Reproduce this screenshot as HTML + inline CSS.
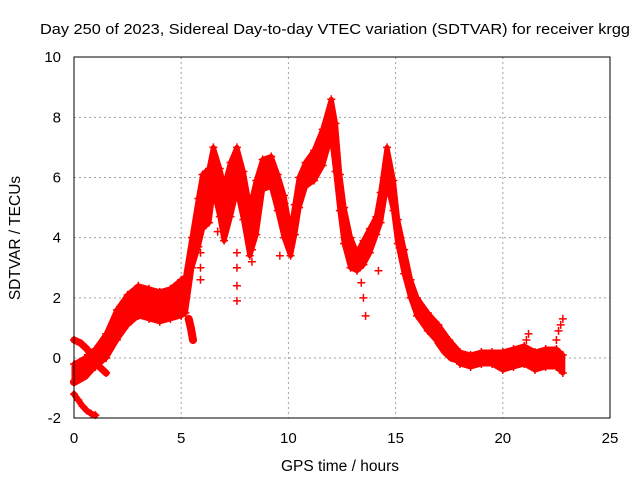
<!DOCTYPE html>
<html><head><meta charset="utf-8"><style>
body{margin:0;background:#fff}
svg{display:block;font-family:"Liberation Sans",sans-serif}
</style></head><body>
<svg id="chart" width="640" height="480" viewBox="0 0 640 480">
<rect width="640" height="480" fill="#fff"/>
<text x="40" y="34" font-size="15" textLength="590" lengthAdjust="spacingAndGlyphs">Day 250 of 2023, Sidereal Day-to-day VTEC variation (SDTVAR) for receiver krgg</text>
<g id="grid"></g>
<g id="ticks"></g>
<g id="marks"></g>
<rect x="74" y="57" width="536" height="361" fill="none" stroke="#000" stroke-width="1"/>
<text x="340" y="471" font-size="15.5" text-anchor="middle">GPS time / hours</text>
<text x="20" y="238" font-size="15.5" text-anchor="middle" transform="rotate(-90 20 238)">SDTVAR / TECUs</text>
</svg>
<script>
const xTicks=[0,5,10,15,20,25];
const yTicks=[-2,0,2,4,6,8,10];
const mainT=[0,0.5,1,1.5,2,2.5,3,3.5,4,4.5,5,5.2,5.5,5.8,6.0,6.3,6.5,6.8,7.0,7.3,7.6,7.9,8.2,8.5,8.8,9.2,9.5,9.8,10.1,10.3,10.5,10.8,11.2,11.6,12.0,12.2,12.4,12.6,12.9,13.2,13.5,13.8,14.1,14.3,14.6,14.9,15.1,15.4,15.7,16.0,16.5,17,17.5,18,18.5,19,19.5,20,20.5,21,21.5,22,22.5,22.8];
const mainV=[-0.5,-0.3,0.0,0.4,1.1,1.6,1.9,1.8,1.7,1.8,2.0,2.1,3.5,4.5,5.2,5.4,6.3,5.5,4.8,5.6,6.3,5.4,4.2,5.0,6.1,6.2,5.5,4.7,3.8,4.6,5.5,6.1,6.4,7.0,8.0,7.0,5.5,4.4,3.5,3.2,3.5,3.9,4.4,5.0,6.4,5.4,4.2,3.2,2.3,1.7,1.2,0.8,0.4,0.0,-0.1,0.0,0.0,-0.1,0.0,0.1,-0.1,0.0,0.0,-0.2];
const mainW=[0.3,0.3,0.3,0.4,0.5,0.5,0.5,0.5,0.5,0.5,0.6,0.6,0.5,0.8,0.9,0.9,0.7,0.8,0.9,0.9,0.7,0.8,0.8,0.9,0.5,0.5,0.6,0.7,0.4,0.5,0.5,0.4,0.5,0.6,0.6,0.8,0.6,0.6,0.5,0.3,0.4,0.4,0.3,0.5,0.6,0.5,0.4,0.4,0.3,0.3,0.3,0.3,0.2,0.2,0.2,0.2,0.2,0.3,0.3,0.3,0.3,0.3,0.3,0.3];
const trackBT=[0,0.3,0.6,0.9,1.2,1.5];
const trackBV=[0.6,0.5,0.3,0.0,-0.3,-0.5];
const trackCT=[0,0.5,1.0,1.5,2.0,2.5];
const trackCV=[-0.8,-0.6,-0.2,0.4,1.2,1.7];
const trackDT=[0,0.2,0.4,0.6,0.8,1.0];
const trackDV=[-1.2,-1.4,-1.6,-1.75,-1.85,-1.9];
const blobT=[5.35,5.45,5.5,5.55];
const blobV=[1.3,1.0,0.8,0.6];
const dipT=[5.9,5.9,5.9,7.6,7.6,7.6,7.6,8.3,8.3,13.4,13.5,13.6,14.2,6.7,7.0,9.6,22.5,22.6,22.7,22.8,21.0,21.1,21.2];
const dipV=[3.5,3.0,2.6,3.5,3.0,2.4,1.9,3.6,3.2,2.5,2.0,1.4,2.9,4.2,4.3,3.4,0.6,0.9,1.1,1.3,0.4,0.6,0.8];
const upT=[17.0,17.3,17.6,18.0];
const upV=[0.5,0.2,0.0,-0.1];
const X=t=>74+t*(536/25);
const Y=v=>358-v*(361/12);
const ns="http://www.w3.org/2000/svg";
function el(tag,attrs,parent){const e=document.createElementNS(ns,tag);for(const k in attrs)e.setAttribute(k,attrs[k]);parent.appendChild(e);return e;}
const gridG=document.getElementById('grid'),ticksG=document.getElementById('ticks'),marksG=document.getElementById('marks');
xTicks.forEach(t=>{
  if(t>0&&t<25){const g=el('line',{x1:X(t),x2:X(t),y1:57,y2:418,stroke:'#a0a0a0','stroke-dasharray':'2,3'},gridG);
  
  }
  const l=el('text',{x:X(t),y:443,'font-size':15,'text-anchor':'middle'},ticksG);l.textContent=t;
  
  
});
yTicks.forEach(v=>{
  if(v>-2&&v<10){const g=el('line',{x1:74,x2:610,y1:Y(v),y2:Y(v),stroke:'#a0a0a0','stroke-dasharray':'2,3'},gridG);
  
  }
  const l=el('text',{x:61,y:Y(v)+5,'font-size':15,'text-anchor':'end'},ticksG);l.textContent=v;
  
  
});
const upperPts=mainT.map((t,i)=>X(t)+','+Y(mainV[i]+mainW[i])).join(' ');
const lowerPts=mainT.map((t,i)=>X(t)+','+Y(mainV[i]-mainW[i])).reverse().join(' ');
const band=el('polygon',{points:upperPts+' '+lowerPts,fill:'#ff0000',stroke:'#ff0000','stroke-width':5,'stroke-linejoin':'round'},marksG);


function plus(t,v,name){
  const x=X(t),y=Y(v);
  const p=el('path',{d:`M${x-4},${y}H${x+4}M${x},${y-4}V${y+4}`,stroke:'#ff0000','stroke-width':1.5},marksG);
  
  
}
function track(T,V,name,w){
  const pl=el('polyline',{points:T.map((t,i)=>X(t)+','+Y(V[i])).join(' '),fill:'none',stroke:'#ff0000','stroke-width':w,'stroke-linecap':'round','stroke-linejoin':'round'},marksG);
  
  
  T.forEach((t,i)=>plus(t,V[i],name+'-point'));
}
mainT.forEach((t,i)=>{plus(t,mainV[i]+mainW[i],'main-point');plus(t,mainV[i]-mainW[i],'main-point');});
track(trackBT,trackBV,'track-b',7);
track(trackCT,trackCV,'track-c',8);
track(trackDT,trackDV,'track-d',6);
track(blobT,blobV,'blob-track',8);
track(upT,upV,'late-track',7);
dipT.forEach((t,i)=>plus(t,dipV[i],'outlier-point'));
</script>
</body></html>
